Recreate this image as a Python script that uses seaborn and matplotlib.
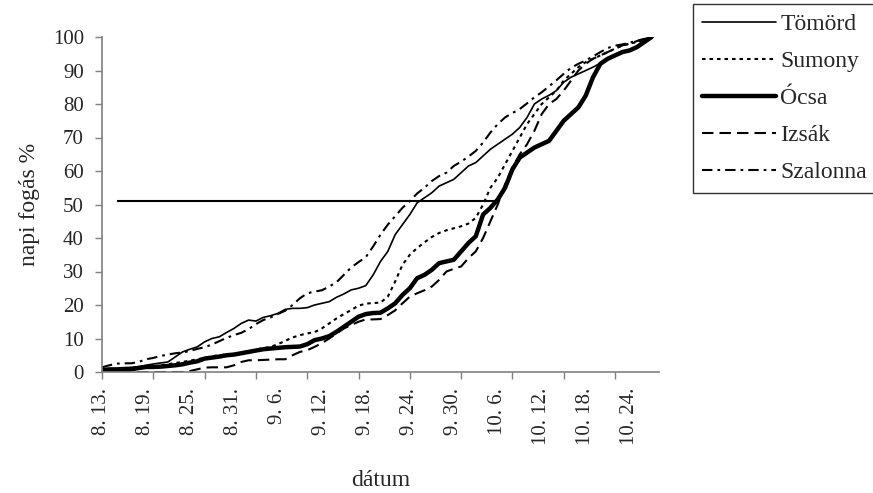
import numpy as np
import pandas as pd
import matplotlib
matplotlib.use("Agg")
import matplotlib.pyplot as plt
import seaborn as sns

# Daily cumulative catch (%) from 8. 13. onward, one value per day
tomord = [1, 1.2, 1.2, 1.3, 1.4, 1.6, 2, 2.4, 2.7, 3,
          4.5, 6, 6.8, 7.5, 9, 10, 10.5, 11.8, 13, 14.5,
          15.5, 15.2, 16.3, 16.8, 17.5, 18.7, 19, 19, 19.2, 20,
          20.5, 21, 22.3, 23.3, 24.5, 25, 25.8, 29, 33, 36,
          41, 44, 47, 50.5, 52, 53.5, 55.5, 56.5, 57.5, 59.5,
          61.5, 62.5, 64.5, 66.5, 68, 69.5, 71, 73, 76, 80,
          81.5, 82.6, 84, 86.5, 88, 89, 90, 91, 92.2, 93.5,
          94.5, 95.5, 96.2, 97, 98.5, 100]
sumony = [0.3, 0.3, 0.4, 0.5, 0.7, 1, 1.3, 1.6, 2, 2.3,
          2.7, 3, 3.4, 3.8, 4.2, 4.7, 5, 5.2, 5.4, 5.8,
          6.2, 6.7, 7.1, 7.5, 8.3, 9.3, 10.3, 11, 11.5, 11.9,
          13, 14.5, 16, 17.3, 18.5, 19.8, 20.4, 20.6, 20.7, 22.5,
          27, 32, 35, 37, 38.7, 40.3, 41.5, 42.3, 42.9, 43.5,
          44.3, 46, 50, 55, 58, 62, 66, 70, 74, 77,
          80, 82, 84, 87, 89, 91, 92.5, 93.5, 94.5, 95.5,
          96.5, 97.5, 98, 98.5, 99, 100]
ocsa = [0.5, 0.5, 0.5, 0.5, 0.8, 1.2, 1.5, 1.5, 1.6, 1.8,
        2, 2.3, 2.8, 3.2, 4, 4.3, 4.6, 5, 5.2, 5.6,
        6, 6.4, 6.8, 7, 7.2, 7.4, 7.5, 7.6, 8.3, 9.5,
        10, 10.7, 12, 13.5, 15, 16.5, 17.3, 17.6, 17.7, 19,
        20.5, 23, 25, 28, 29, 30.5, 32.5, 33, 33.5, 36,
        38.5, 40.5, 47, 49, 51.5, 55, 60.5, 64, 65.5, 67,
        68, 69, 72, 75, 77, 79, 82.5, 88, 92, 93.5,
        94.5, 95.5, 96, 97, 98.5, 100]
izsak = [0, 0, 0, 0, 0, 0, 0, 0, 0, 0,
         0, 0, 0.3, 0.8, 1.3, 1.4, 1.4, 1.4, 2, 3,
         3.5, 3.5, 3.6, 3.7, 3.8, 3.8, 5, 6, 6.5, 7.5,
         8.6, 10, 11.5, 13, 14, 15, 15.7, 15.7, 15.8, 17,
         18.4, 20.5, 22.5, 23.5, 24.4, 25.5, 27.5, 30, 30.8, 31.5,
         34, 36, 40, 45, 50, 56, 61, 65, 68, 72,
         77, 80, 81.5, 84, 87, 90, 92, 93.5, 94.5, 95.5,
         96.5, 97.5, 98, 98.8, 99.4, 100]
szalonna = [1.4, 2, 2.5, 2.6, 2.6, 3, 3.8, 4.2, 4.8, 5.2,
            5.6, 5.8, 6.3, 6.9, 7.4, 8.2, 9.2, 10.2, 11, 11.7,
            12.8, 14.3, 15.5, 16.3, 17.3, 18.3, 20, 22, 23.5, 24,
            24.4, 25.5, 26.8, 29, 31.2, 32.8, 34.3, 37.5, 41, 44,
            46.5, 49, 51, 53.3, 55, 57, 58.5, 59.5, 61.5, 62.8,
            64.3, 66, 68.5, 71.5, 74, 76, 77.3, 78.5, 80.2, 82,
            83.5, 85.3, 87.1, 89, 90.8, 92, 93, 94.2, 95.5, 96.7,
            97.4, 97.8, 98.3, 98.9, 99.4, 100]

# 51 % reference line, from 8. 15. to 10. 6.
ref_days = [2, 54]
ref_level = [51, 51]

date_labels = ["8. 13.", "8. 19.", "8. 25.", "8. 31.", "9. 6.", "9. 12.",
               "9. 18.", "9. 24.", "9. 30.", "10. 6.", "10. 12.", "10. 18.",
               "10. 24."]
n_days = 77  # 8. 13. .. 10. 28.

series = {"Tömörd": tomord, "Sumony": sumony, "Ócsa": ocsa,
          "Izsák": izsak, "Szalonna": szalonna}
styles = {
    "Tömörd": dict(lw=1.2, ls="-"),
    "Sumony": dict(lw=1.5, ls=(0, (1.7, 1.9))),
    "Ócsa": dict(lw=3.2, ls="-"),
    "Izsák": dict(lw=1.5, ls=(0, (5.5, 2.9))),
    "Szalonna": dict(lw=1.5, ls=(0, (5.0, 2.4, 1.3, 2.4))),
}

frames = []
for name, vals in series.items():
    frames.append(pd.DataFrame({"nap": np.arange(len(vals)), "fogas": vals,
                                "hely": name}))
df = pd.concat(frames, ignore_index=True)

sns.set_style("white")
plt.rcParams["font.family"] = ["Liberation Serif", "DejaVu Serif"]

TICK_FS = 15
TITLE_FS = 17

fig = plt.figure(figsize=(8.73, 4.93), dpi=100)
ax = fig.add_axes([102 / 873, 1 - 372 / 493, (659 - 102) / 873, (372 - 37) / 493])

handles = []
for name in series:
    sub = df[df["hely"] == name]
    sns.lineplot(data=sub, x="nap", y="fogas", ax=ax, color="black",
                 linewidth=styles[name]["lw"], label=name, legend=False,
                 solid_joinstyle="round")
    line = ax.lines[-1]
    line.set_linestyle(styles[name]["ls"])
    handles.append(line)

ax.plot(ref_days, ref_level, color="black", lw=1.5, solid_capstyle="butt")

ax.set_xlim(0, n_days - 1)
ax.set_ylim(0, 100)

# y axis
ax.set_yticks(np.arange(0, 101, 10))
ax.tick_params(axis="y", which="major", direction="out", length=5, width=1,
               color="#808080", labelsize=TICK_FS, pad=8, left=True)

# x axis: tick marks every 7 days, date labels every 6 days
ax.xaxis.remove_overlapping_locs = False
ax.set_xticks(np.arange(0, n_days, 7))
ax.set_xticklabels([])
ax.set_xticks(np.arange(0, 6 * len(date_labels), 6), minor=True)
ax.set_xticklabels(date_labels, minor=True, rotation=90, fontsize=TICK_FS)
ax.tick_params(axis="x", which="major", direction="out", length=5, width=1,
               color="#808080", bottom=True)
ax.tick_params(axis="x", which="minor", length=0, pad=11.5, bottom=True)

for side in ("top", "right"):
    ax.spines[side].set_visible(False)
for side in ("left", "bottom"):
    ax.spines[side].set_color("#808080")
    ax.spines[side].set_linewidth(1.2)

ax.set_xlabel("dátum", fontsize=TITLE_FS, labelpad=18)
ax.set_ylabel("napi fogás %", fontsize=TITLE_FS, labelpad=9)

leg = ax.legend(handles=handles, labels=list(series.keys()),
                loc="upper left", bbox_to_anchor=(693 / 873, 1 - 4 / 493),
                bbox_transform=fig.transFigure, borderaxespad=0,
                frameon=True, fancybox=False, edgecolor="black",
                handlelength=3.1, handletextpad=0.2, borderpad=0.4,
                labelspacing=0.66, fontsize=TITLE_FS)
leg.get_frame().set_linewidth(1.0)

fig.savefig("out.png", dpi=100, facecolor="white")
